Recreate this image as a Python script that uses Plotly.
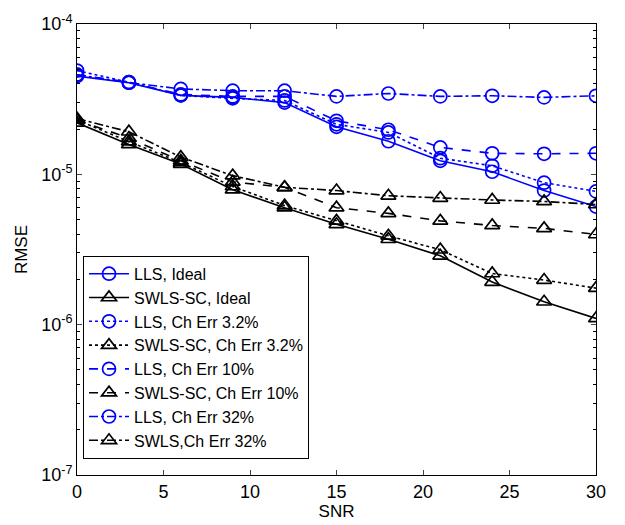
import plotly.graph_objects as go

snr = [0, 3, 6, 9, 12, 15, 18, 21, 24, 27, 30]

lls_ideal = [4.5e-5, 4.07e-5, 3.35e-5, 3.25e-5, 3.0e-5, 2.07e-5, 1.66e-5, 1.23e-5, 1.04e-5, 7.8e-6, 6.1e-6]
swls_ideal = [2.2e-5, 1.58e-5, 1.17e-5, 7.9e-6, 6.0e-6, 4.65e-6, 3.7e-6, 2.87e-6, 1.92e-6, 1.42e-6, 1.1e-6]
lls_32 = [4.9e-5, 4.1e-5, 3.35e-5, 3.2e-5, 3.1e-5, 2.15e-5, 1.9e-5, 1.28e-5, 1.14e-5, 8.8e-6, 7.7e-6]
swls_32 = [2.3e-5, 1.65e-5, 1.2e-5, 8.3e-6, 6.2e-6, 4.9e-6, 3.9e-6, 3.15e-6, 2.19e-6, 1.98e-6, 1.75e-6]
lls_10 = [4.6e-5, 4.1e-5, 3.4e-5, 3.3e-5, 3.3e-5, 2.27e-5, 1.98e-5, 1.51e-5, 1.38e-5, 1.37e-5, 1.38e-5]
swls_10 = [2.3e-5, 1.74e-5, 1.23e-5, 8.9e-6, 8.2e-6, 6.0e-6, 5.5e-6, 4.9e-6, 4.57e-6, 4.37e-6, 3.98e-6]
lls_320 = [4.6e-5, 4.07e-5, 3.7e-5, 3.6e-5, 3.6e-5, 3.3e-5, 3.45e-5, 3.3e-5, 3.33e-5, 3.25e-5, 3.33e-5]
swls_320 = [2.35e-5, 1.92e-5, 1.3e-5, 9.8e-6, 8.2e-6, 7.8e-6, 7.2e-6, 6.95e-6, 6.75e-6, 6.6e-6, 6.3e-6]

series = [
    ("LLS, Ideal", lls_ideal, "#0000ff", "solid", "circle-open"),
    ("SWLS-SC, Ideal", swls_ideal, "#000000", "solid", "triangle-up-open"),
    ("LLS, Ch Err 3.2%", lls_32, "#0000ff", "dot", "circle-open"),
    ("SWLS-SC, Ch Err 3.2%", swls_32, "#000000", "dot", "triangle-up-open"),
    ("LLS, Ch Err 10%", lls_10, "#0000ff", "dash", "circle-open"),
    ("SWLS-SC, Ch Err 10%", swls_10, "#000000", "dash", "triangle-up-open"),
    ("LLS, Ch Err 32%", lls_320, "#0000ff", "dashdot", "circle-open"),
    ("SWLS,Ch Err 32%", swls_320, "#000000", "dashdot", "triangle-up-open"),
]

y_tickvals = [1e-7, 1e-6, 1e-5, 1e-4]
y_ticktext = ["10<sup>-7</sup>", "10<sup>-6</sup>", "10<sup>-5</sup>", "10<sup>-4</sup>"]
x_tickvals = [0, 5, 10, 15, 20, 25, 30]

fig = go.Figure()
for name, vals, color, dash, sym in series:
    fig.add_trace(go.Scatter(
        x=snr, y=vals, name=name, mode="lines+markers",
        line=dict(color=color, dash=dash, width=1.6),
        marker=dict(symbol=sym, size=13, color=color, line=dict(width=1.7, color=color)),
    ))

font = dict(family="Liberation Sans, Arial, Helvetica, sans-serif", size=18, color="black")
fig.update_layout(
    width=625, height=525,
    margin=dict(l=77, r=29, t=17, b=47),
    paper_bgcolor="white", plot_bgcolor="white",
    font=font,
    showlegend=True,
    legend=dict(x=0.0116, y=0.486, xanchor="left", yanchor="top",
                bgcolor="white", bordercolor="black", borderwidth=1,
                font=dict(size=16), tracegroupgap=0, itemwidth=40),
)
fig.update_xaxes(range=[0, 30], tickvals=x_tickvals, ticks="inside", ticklen=5,
                 showline=True, linecolor="black", linewidth=1, mirror="ticks",
                 showgrid=False, zeroline=False, tickfont=dict(size=18),
                 title=dict(text="SNR", standoff=0, font=dict(size=17)))
fig.update_yaxes(type="log", range=[-7, -4], tickvals=y_tickvals, ticktext=y_ticktext,
                 ticks="inside", ticklen=5, tickfont=dict(size=18),
                 minor=dict(ticks="inside", ticklen=3, tickcolor="black", showgrid=False,
                            tickvals=[m * 10 ** e for e in (-7, -6, -5) for m in range(2, 10)]),
                 showline=True, linecolor="black", linewidth=1, mirror="ticks",
                 showgrid=False, zeroline=False,
                 title=dict(text="RMSE", standoff=9, font=dict(size=17)))

fig.write_html("out.html")
